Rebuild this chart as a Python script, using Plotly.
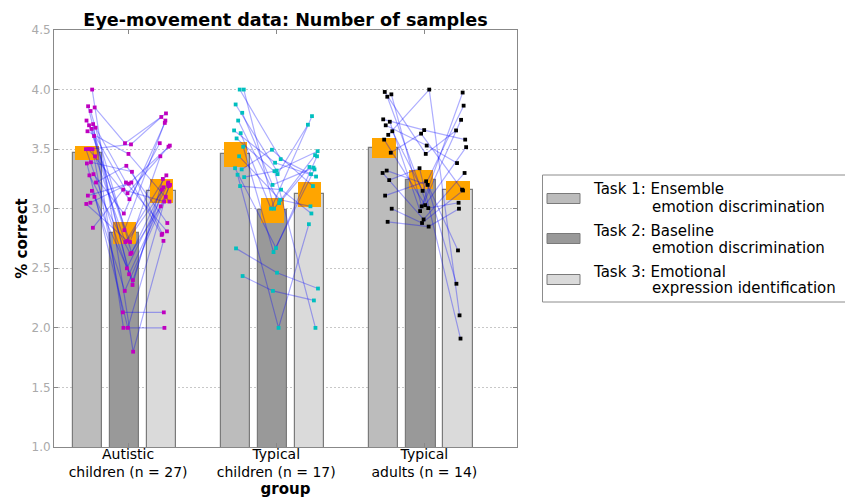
import plotly.graph_objects as go

# ---------------- data ----------------
group_labels = ["Autistic<br>children (n = 27)",
                "Typical<br>children (n = 17)",
                "Typical<br>adults (n = 14)"]
task_line1 = ["Task 1: Ensemble", "Task 2: Baseline", "Task 3: Emotional"]
task_line2 = ["emotion discrimination", "emotion discrimination", "expression identification"]
y_ticks = [1.0, 1.5, 2.0, 2.5, 3.0, 3.5, 4.0, 4.5]

# bar heights (group means) per task, order: autistic, typical children, typical adults
mean_task1 = [3.466, 3.456, 3.510]
mean_task2 = [2.795, 2.986, 3.243]
mean_task3 = [3.148, 3.120, 3.153]
# half-heights of the orange error boxes
err_task1 = [0.057, 0.103, 0.084]
err_task2 = [0.095, 0.106, 0.081]
err_task3 = [0.098, 0.103, 0.081]

# per-subject values (same index = same subject across tasks)
asd_task1 = [4.00, 3.86, 3.85, 3.82, 3.74, 3.71, 3.70, 3.68, 3.67, 3.65, 3.61, 3.50, 3.50, 3.50,
             3.50, 3.44, 3.39, 3.38, 3.29, 3.28, 3.22, 3.15, 3.11, 3.10, 3.05, 3.04, 2.84]
asd_task2 = [1.80, 2.45, 3.55, 2.63, 3.13, 2.00, 2.72, 3.22, 2.36, 3.46, 2.82, 3.54, 2.50, 2.13,
             3.08, 2.72, 3.31, 2.00, 2.96, 2.62, 3.36, 2.40, 3.21, 2.31, 3.22, 2.73, 3.16]
asd_task3 = [2.73, 3.20, 3.80, 3.16, 3.52, 2.00, 3.44, 2.81, 3.25, 3.06, 3.74, 3.77, 3.21, 2.13,
             3.55, 3.28, 2.79, 3.19, 3.72, 3.02, 2.88, 3.18, 3.53, 3.10, 2.78, 3.22, 3.06]

tc_task1 = [4.00, 4.00, 3.875, 3.805, 3.74, 3.657, 3.634, 3.59, 3.52, 3.44, 3.34, 3.33, 3.285,
            3.265, 3.19, 2.667, 2.435]
tc_task2 = [3.00, 3.416, 3.32, 3.20, 3.047, 3.386, 3.00, 3.29, 2.636, 3.075, 2.67, 3.495, 2.00,
            3.315, 3.16, 2.463, 2.31]
tc_task3 = [3.45, 3.29, 3.483, 3.345, 3.35, 3.27, 3.777, 3.705, 3.33, 3.02, 3.44, 3.19, 2.87,
            2.00, 2.96, 2.33, 2.23]

ad_task1 = [3.98, 3.96, 3.94, 3.75, 3.73, 3.70, 3.65, 3.62, 3.58, 3.47, 3.32, 3.30, 3.24, 3.11,
            3.00, 2.89]
ad_task2 = [3.46, 3.02, 3.005, 3.66, 2.98, 3.53, 3.15, 4.00, 3.03, 3.63, 3.20, 2.91, 3.34, 3.23,
            2.88, 2.85]
ad_task3 = [3.657, 3.975, 3.05, 3.58, 3.746, 3.383, 3.865, 2.105, 3.517, 3.16, 2.65, 3.30, 1.91,
            2.37, 3.153, 3.00]

groups_data = [[asd_task1, asd_task2, asd_task3],
               [tc_task1, tc_task2, tc_task3],
               [ad_task1, ad_task2, ad_task3]]
means = [mean_task1, mean_task2, mean_task3]
errs = [err_task1, err_task2, err_task3]
point_colors = ["#bf00bf", "#00bfbf", "#000000"]

# ---------------- styling ----------------
FONT = "DejaVu Sans"
bar_colors = ["#bcbcbc", "#999999", "#dadada"]
bar_edge = "#7a7a7a"
W, H = 845, 498
L, R, T, B = 54, 517, 30, 447          # plot area in pixels
BAR_W, SEM_W, STEP, OFF0 = 0.2, 0.16, 0.25, 0.225

def bar_x(g, k):
    return g + OFF0 + k * STEP

fig = go.Figure()

# gray bars (means)
for k in range(3):
    xs = [bar_x(g, k) for g in range(3)]
    fig.add_trace(go.Bar(x=xs, y=means[k], width=BAR_W, base=0,
                         marker=dict(color=bar_colors[k], line=dict(color=bar_edge, width=1.2)),
                         showlegend=False, hoverinfo="skip"))

# orange error boxes
sx, sb, sh = [], [], []
for g in range(3):
    for k in range(3):
        m, e = means[k][g], errs[k][g]
        sx.append(bar_x(g, k)); sb.append(m - e); sh.append(2 * e)
fig.add_trace(go.Bar(x=sx, y=sh, base=sb, width=SEM_W,
                     marker=dict(color="#ffa500", line=dict(width=0)),
                     showlegend=False, hoverinfo="skip"))

def jit(i, k):
    return -0.012 + 0.072 * (((i + 1) * 0.6180339887 + k * 0.37) % 1.0)

# subject lines and points
for g in range(3):
    t1, t2, t3 = groups_data[g]
    lx, ly = [], []
    px_all = [[], [], []]
    for i in range(len(t1)):
        xs = [bar_x(g, k) + jit(i + 7 * g, k) for k in range(3)]
        ys = [t1[i], t2[i], t3[i]]
        lx += xs + [None]; ly += ys + [None]
        for k in range(3):
            px_all[k].append(xs[k])
    fig.add_trace(go.Scatter(x=lx, y=ly, mode="lines",
                             line=dict(color="rgba(0,0,255,0.32)", width=1.2),
                             showlegend=False, hoverinfo="skip"))
    fig.add_trace(go.Scatter(x=px_all[0] + px_all[1] + px_all[2], y=list(t1) + list(t2) + list(t3),
                             mode="markers",
                             marker=dict(symbol="square", size=3.8, color=point_colors[g],
                                         line=dict(width=0)),
                             showlegend=False, hoverinfo="skip"))

# ---------------- manual legend ----------------
PW, PH = R - L, B - T
def pxx(x): return (x - L) / PW
def pyy(y): return (B - y) / PH

shapes = [dict(type="rect", xref="paper", yref="paper",
               x0=pxx(542.5), x1=pxx(860), y0=pyy(302), y1=pyy(175),
               line=dict(color="#8c8c8c", width=1), fillcolor="white", layer="above")]
annotations = []
centers = [198.5, 238.5, 279.5]
l1y = [189, 230.5, 271.5]
l2y = [206.5, 248, 288.5]
for k in range(3):
    shapes.append(dict(type="rect", xref="paper", yref="paper",
                       x0=pxx(547), x1=pxx(580), y0=pyy(centers[k] + 5), y1=pyy(centers[k] - 5),
                       line=dict(color=bar_edge, width=1), fillcolor=bar_colors[k], layer="above"))
    annotations.append(dict(text=task_line1[k], xref="paper", yref="paper", x=pxx(591), y=pyy(l1y[k]),
                            xanchor="left", yanchor="middle", showarrow=False,
                            font=dict(family=FONT, size=15, color="black")))
    annotations.append(dict(text=task_line2[k], xref="paper", yref="paper", x=pxx(650), y=pyy(l2y[k]),
                            xanchor="left", yanchor="middle", showarrow=False,
                            font=dict(family=FONT, size=15, color="black")))

fig.update_layout(
    width=W, height=H,
    margin=dict(l=L, r=W - R, t=T, b=H - B, pad=0, autoexpand=False),
    paper_bgcolor="white", plot_bgcolor="white",
    barmode="overlay", bargap=0,
    font=dict(family=FONT, size=14, color="black"),
    title=dict(text="<b>Eye-movement data: Number of samples</b>",
               x=((L + R) / 2) / W, xanchor="center",
               y=1 - 19.5 / H, yanchor="middle", yref="container",
               font=dict(family=FONT, size=17.6, color="black")),
    shapes=shapes, annotations=annotations, showlegend=False,
)
fig.update_xaxes(range=[0, 3.125], tickvals=[0.5, 1.5, 2.5], ticktext=group_labels,
                 automargin=False, ticklabelstandoff=-6,
                 showgrid=False, zeroline=False, showline=True, linecolor="#888888", linewidth=1,
                 mirror="ticks", ticks="inside", ticklen=4, tickcolor="#888888",
                 tickfont=dict(family=FONT, size=14, color="black"),
                 title=dict(text="<b>group</b>", font=dict(family=FONT, size=15, color="black"),
                            standoff=12))
fig.update_yaxes(range=[1.0, 4.5], tickvals=y_ticks, tickformat=".1f",
                 automargin=False,
                 showgrid=True, gridcolor="#c8c8c8", griddash="2px,2px", gridwidth=1,
                 zeroline=False, showline=True, linecolor="#888888", linewidth=1,
                 mirror="ticks", ticks="inside", ticklen=4, tickcolor="#888888",
                 tickfont=dict(family=FONT, size=12, color="#aaaaaa"),
                 title=dict(text="<b>% correct</b>", font=dict(family=FONT, size=15, color="black"),
                            standoff=0))

fig.write_html("out.html", config={"displayModeBar": False},
               post_script="document.body.style.margin='0';document.body.style.overflow='hidden';")
